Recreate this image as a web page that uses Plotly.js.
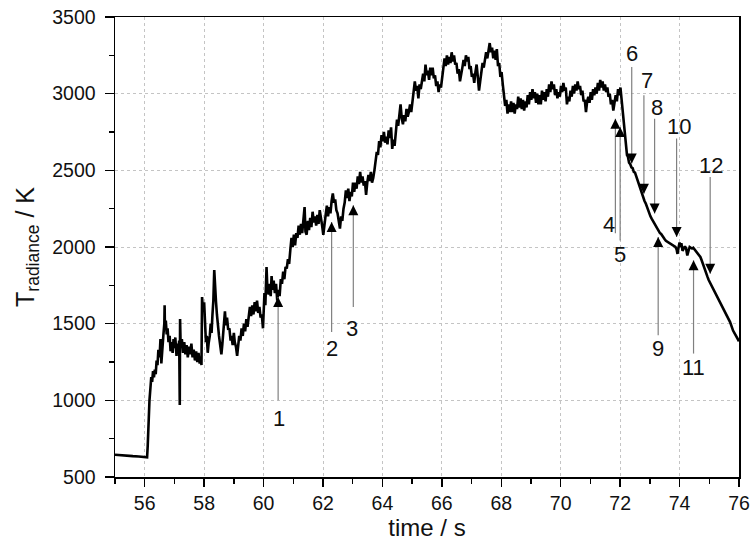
<!DOCTYPE html>
<html><head><meta charset="utf-8">
<script src="https://cdn.plot.ly/plotly-3.0.1.min.js"></script>
<style>html,body{margin:0;padding:0;background:#fff}#chart{width:753px;height:542px}</style>
</head><body><div id="chart"></div>
<script>
// [time (s), T_radiance (K)] samples
const baseline = [[55.0,645],[55.2,641],[55.4,640],[55.6,636],[55.8,634],[56.0,630],[56.08,628]];
const heating1 = [[56.1,700],[56.13,900],[56.16,1000],[56.2,1100],[56.22,1152],[56.25,1120],[56.28,1190],[56.31,1150],[56.34,1200],[56.37,1170],[56.4,1260],[56.43,1230],[56.46,1330],[56.5,1280],[56.53,1400],[56.56,1240],[56.6,1390],[56.63,1430],[56.66,1500],[56.67,1620],[56.68,1480],[56.71,1520],[56.74,1430],[56.77,1470],[56.8,1380],[56.84,1420],[56.87,1320],[56.9,1380],[56.94,1310],[56.97,1400],[57.0,1340],[57.03,1410],[57.07,1290],[57.1,1370],[57.13,1320],[57.16,1390],[57.18,970],[57.19,1530],[57.21,1350],[57.25,1400],[57.29,1310],[57.33,1380],[57.37,1300],[57.41,1360],[57.45,1280],[57.49,1350],[57.53,1300],[57.57,1370],[57.61,1280],[57.65,1330],[57.69,1260],[57.73,1320],[57.77,1250],[57.81,1310],[57.85,1240],[57.89,1280],[57.91,1230]];
const heating2 = [[57.93,1674],[57.96,1590],[58.0,1640],[58.03,1450],[58.06,1380],[58.09,1420],[58.12,1310],[58.15,1370],[58.19,1420],[58.22,1500],[58.25,1440],[58.28,1560],[58.31,1650],[58.34,1850],[58.37,1700],[58.4,1640],[58.43,1560],[58.46,1480],[58.5,1420],[58.54,1360],[58.58,1300],[58.61,1360],[58.64,1460],[58.67,1520],[58.7,1580],[58.73,1490],[58.77,1540],[58.81,1460],[58.85,1470],[58.89,1390],[58.92,1420],[58.96,1360],[59.0,1440],[59.03,1380],[59.07,1350],[59.11,1290],[59.15,1370],[59.18,1420],[59.22,1390],[59.26,1470],[59.3,1420],[59.34,1500],[59.38,1450],[59.42,1530],[59.46,1480],[59.5,1560],[59.54,1610],[59.58,1550],[59.62,1620],[59.66,1560],[59.7,1640],[59.74,1580],[59.78,1650],[59.82,1570],[59.86,1610],[59.9,1540],[59.94,1560],[59.98,1470]];
const heating3 = [[60.0,1560],[60.03,1700],[60.06,1620],[60.1,1870],[60.13,1720],[60.17,1690],[60.21,1760],[60.24,1680],[60.27,1810],[60.3,1720],[60.34,1780],[60.38,1700],[60.42,1760],[60.46,1650],[60.5,1720],[60.54,1680],[60.58,1790],[60.62,1760],[60.66,1840],[60.7,1790],[60.74,1870],[60.78,1860],[60.82,1920],[60.86,1890],[60.9,1980],[60.94,2060],[60.98,2000],[61.02,2080],[61.06,2010],[61.1,2090],[61.14,2060],[61.18,2140],[61.22,2080],[61.26,2150],[61.3,2090],[61.34,2180],[61.38,2260],[61.41,2100],[61.45,2080],[61.49,2170],[61.53,2110],[61.57,2190],[61.61,2130],[61.65,2230],[61.69,2160],[61.73,2200],[61.77,2140],[61.81,2210],[61.85,2150],[61.89,2240],[61.93,2170],[61.97,2140],[62.01,2080],[62.05,2170],[62.09,2210],[62.13,2270],[62.17,2200],[62.21,2260],[62.25,2220],[62.29,2300],[62.33,2350],[62.37,2290],[62.41,2310],[62.45,2240],[62.49,2220],[62.53,2170],[62.57,2120],[62.61,2200],[62.65,2170],[62.69,2250],[62.73,2290],[62.77,2370],[62.81,2320],[62.85,2380],[62.89,2300],[62.93,2360],[62.97,2330],[63.01,2420],[63.05,2360],[63.09,2420],[63.13,2380],[63.17,2460],[63.21,2410],[63.25,2490],[63.29,2420],[63.33,2460],[63.37,2400],[63.41,2430],[63.45,2340],[63.49,2420],[63.53,2470],[63.57,2430],[63.61,2490],[63.65,2420],[63.69,2450],[63.73,2500],[63.77,2560],[63.81,2620],[63.85,2600],[63.89,2690],[63.93,2650],[63.97,2730]];
const heating4 = [[64.01,2690],[64.05,2750],[64.09,2680],[64.13,2720],[64.17,2670],[64.21,2760],[64.25,2710],[64.29,2780],[64.33,2640],[64.37,2700],[64.41,2660],[64.45,2770],[64.49,2830],[64.53,2790],[64.57,2890],[64.61,2930],[64.65,2840],[64.69,2800],[64.73,2860],[64.77,2820],[64.81,2900],[64.85,2850],[64.89,2880],[64.93,2930],[64.97,2880],[65.01,2960],[65.05,3030],[65.09,3080],[65.13,3020],[65.17,3050],[65.21,2970],[65.25,3060],[65.29,3030],[65.33,3100],[65.37,3130],[65.41,3080],[65.45,3190],[65.49,3120],[65.53,3150],[65.57,3090],[65.61,3170],[65.65,3120],[65.69,3170],[65.73,3100],[65.77,3120],[65.81,3050],[65.85,3080],[65.89,3010],[65.93,3060],[65.97,3040],[66.01,3110],[66.05,3170],[66.09,3230],[66.13,3180],[66.17,3250],[66.21,3190],[66.25,3240],[66.29,3200],[66.33,3270],[66.37,3210],[66.41,3250],[66.45,3190],[66.49,3200],[66.53,3130],[66.57,3160],[66.61,3080],[66.65,3140],[66.69,3170],[66.73,3220],[66.77,3180],[66.81,3250],[66.85,3210],[66.89,3240],[66.93,3160],[66.97,3180],[67.01,3110],[67.05,3130],[67.09,3070],[67.13,3140],[67.17,3190],[67.21,3110],[67.25,3020],[67.29,3080],[67.33,3150],[67.37,3200],[67.41,3170],[67.45,3240],[67.49,3270],[67.53,3230],[67.57,3300],[67.61,3330],[67.65,3270],[67.69,3300],[67.73,3230],[67.77,3280],[67.81,3220],[67.85,3290],[67.89,3180],[67.93,3200],[67.97,3110],[68.01,3140],[68.05,3060]];
const plateau = [[68.09,3000],[68.13,2920],[68.17,2960],[68.21,2870],[68.25,2930],[68.29,2880],[68.33,2950],[68.37,2880],[68.41,2940],[68.45,2870],[68.49,2930],[68.53,2900],[68.57,2980],[68.61,2910],[68.65,2970],[68.69,2900],[68.73,2960],[68.77,2890],[68.81,2950],[68.85,2910],[68.89,2990],[68.93,2930],[68.97,3010],[69.01,2960],[69.05,3030],[69.09,2970],[69.13,3010],[69.17,2940],[69.21,3000],[69.25,2930],[69.29,2990],[69.33,2930],[69.37,3020],[69.41,2960],[69.45,3010],[69.49,2950],[69.53,3030],[69.57,2980],[69.61,3060],[69.65,3010],[69.69,3080],[69.73,3030],[69.77,3060],[69.81,2990],[69.85,3030],[69.89,2970],[69.93,3010],[69.97,2980],[70.01,3050],[70.05,3010],[70.09,3070],[70.13,3020],[70.17,3040],[70.21,2930],[70.25,2980],[70.29,2950],[70.33,3020],[70.37,2980],[70.41,3050],[70.45,3000],[70.49,3060],[70.53,3020],[70.57,3080],[70.61,3030],[70.65,3050],[70.69,2990],[70.73,3020],[70.77,2950],[70.81,2960],[70.85,2880],[70.89,2950],[70.93,2980],[70.97,2940],[71.01,3010],[71.05,2960],[71.09,3030],[71.13,2990],[71.17,3040],[71.21,3000],[71.25,3070],[71.29,3020],[71.33,3090],[71.37,3040],[71.41,3080],[71.45,3020],[71.49,3060],[71.53,3010],[71.57,3040],[71.61,2980],[71.65,3000],[71.69,2930],[71.73,2960],[71.77,2890],[71.81,2950],[71.85,2990],[71.89,2950],[71.93,3030],[71.97,2990],[72.01,3040],[72.05,2960],[72.08,2900]];
const cooling = [[72.11,2800],[72.14,2760],[72.17,2680],[72.2,2640],[72.23,2600],[72.26,2590],[72.3,2550],[72.34,2540],[72.38,2520],[72.42,2515],[72.46,2490],[72.5,2485],[72.54,2460],[72.58,2440],[72.62,2420],[72.66,2395],[72.7,2370],[72.74,2340],[72.78,2320],[72.82,2300],[72.86,2285],[72.9,2260],[72.94,2235],[72.98,2215],[73.02,2200],[73.06,2185],[73.1,2170],[73.14,2160],[73.18,2145],[73.22,2130],[73.26,2115],[73.3,2100],[73.34,2090],[73.38,2085],[73.42,2070],[73.46,2060],[73.5,2050],[73.54,2040],[73.58,2035],[73.62,2030],[73.66,2025],[73.7,2020],[73.74,2020],[73.78,2010],[73.82,2005],[73.86,2000],[73.9,1985],[73.93,1955],[73.96,1990],[74.0,2030],[74.03,2000],[74.06,2025],[74.1,1975],[74.14,1990],[74.18,2005],[74.22,1990],[74.26,1945],[74.3,1975],[74.34,2000],[74.38,1995],[74.42,1990],[74.46,1995],[74.5,1985],[74.54,1980],[74.58,1970],[74.62,1960],[74.66,1950],[74.7,1935],[74.74,1915],[74.78,1890],[74.82,1870],[74.86,1845],[74.9,1825],[74.94,1805],[74.98,1785],[75.02,1770],[75.1,1745],[75.2,1705],[75.3,1665],[75.4,1625],[75.5,1585],[75.6,1550],[75.7,1510],[75.8,1455],[75.9,1415],[76.0,1385]];

// numbered arrows
const arrowLabels = ['1','2','3','4','5','6','7','8','9','10','11','12'];
const arrowX      = [60.49, 62.29, 63.02, 71.84, 72.0, 72.39, 72.8, 73.16, 73.28, 73.9, 74.47, 75.03];
const arrowTipY   = [1674, 2163, 2272, 2837, 2783, 2544, 2348, 2218, 2065, 2065, 1913, 1826];
const arrowTailY  = [1000, 1446, 1609, 2090, 2043, 3174, 2989, 2837, 1424, 2707, 1305, 2457];
const labelX      = [60.52, 62.29, 62.98, 71.62, 72.0, 72.41, 72.9, 73.23, 73.28, 73.98, 74.47, 75.05];
const labelY      = [880, 1337, 1468, 2150, 1950, 3261, 3087, 2913, 1337, 2783, 1217, 2533];

const xTickVals = [56, 58, 60, 62, 64, 66, 68, 70, 72, 74, 76];
const yTickVals = [500, 1000, 1500, 2000, 2500, 3000, 3500];

const segs = [baseline, heating1, heating2, heating3, heating4, plateau, cooling];
const tx = [], ty = [];
segs.forEach(s => s.forEach(p => { tx.push(p[0]); ty.push(p[1]); }));

const lx = [], ly = [];
arrowX.forEach((x, i) => { lx.push(x, x, null); ly.push(arrowTailY[i], arrowTipY[i], null); });
const upX = [], upY = [], dnX = [], dnY = [];
arrowX.forEach((x, i) => {
  if (arrowTipY[i] > arrowTailY[i]) { upX.push(x); upY.push(arrowTipY[i]); }
  else { dnX.push(x); dnY.push(arrowTipY[i]); }
});

const FONT = 'Liberation Sans, Arial, Helvetica, sans-serif';
const traces = [
  {x: tx, y: ty, type: 'scatter', mode: 'lines', line: {color: '#000', width: 2.6}, hoverinfo: 'skip'},
  {x: lx, y: ly, type: 'scatter', mode: 'lines', line: {color: '#808080', width: 1.2}, hoverinfo: 'skip'},
  {x: upX, y: upY, type: 'scatter', mode: 'markers', marker: {symbol: 'arrow-up', size: 10, color: '#000'}, hoverinfo: 'skip'},
  {x: dnX, y: dnY, type: 'scatter', mode: 'markers', marker: {symbol: 'arrow-down', size: 10, color: '#000'}, hoverinfo: 'skip'}
];

const annotations = arrowLabels.map((t, i) => ({
  x: labelX[i], y: labelY[i], xref: 'x', yref: 'y', text: t, showarrow: false,
  font: {family: FONT, size: 22, color: '#111'}
}));

const axisCommon = {
  showline: true, linecolor: '#000', linewidth: 1.5, mirror: true,
  ticks: 'outside', tickcolor: '#000', tickwidth: 1.5,
  showgrid: true, gridcolor: '#c4c4c4', gridwidth: 1, griddash: '3px,3px',
  zeroline: false, tickfont: {family: FONT, size: 19.5, color: '#111'}
};

const layout = {
  width: 753, height: 542,
  margin: {l: 115, r: 14, t: 17, b: 65},
  paper_bgcolor: '#fff', plot_bgcolor: '#fff',
  showlegend: false,
  font: {family: FONT, color: '#111'},
  xaxis: Object.assign({}, axisCommon, {
    range: [55, 76], tickmode: 'array', tickvals: xTickVals, ticklen: 8, ticklabelstandoff: 0,
    minor: {dtick: 1, tick0: 55, ticks: 'outside', ticklen: 5, tickwidth: 1.5, tickcolor: '#000', showgrid: false},
    title: {text: 'time / s', font: {family: FONT, size: 24, color: '#111'}, standoff: 0}
  }),
  yaxis: Object.assign({}, axisCommon, {
    range: [500, 3500], tickmode: 'array', tickvals: yTickVals, ticklen: 9, ticklabelstandoff: 5,
    minor: {dtick: 250, tick0: 500, ticks: 'outside', ticklen: 5, tickwidth: 1.5, tickcolor: '#000', showgrid: false},
    title: {text: 'T<sub>radiance</sub> / K', font: {family: FONT, size: 25, color: '#111'}, standoff: 10}
  }),
  annotations: annotations
};

Plotly.newPlot('chart', traces, layout, {displayModeBar: false, staticPlot: true});
</script>
</body></html>
